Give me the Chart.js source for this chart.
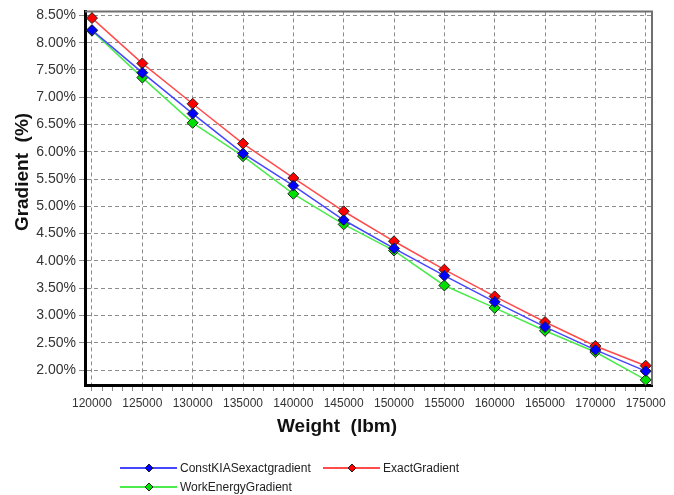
<!DOCTYPE html>
<html>
<head>
<meta charset="utf-8">
<title>Gradient vs Weight</title>
<script src="https://cdn.jsdelivr.net/npm/chart.js@4.4.0/dist/chart.umd.min.js"></script>
<style>
  html, body { margin: 0; padding: 0; background: #fff; }
</style>
</head>
<body>
<canvas id="Chart" width="674" height="495"></canvas>
<script>
// weight in lbm, gradients in percent
const weights = [120000, 125000, 130000, 135000, 140000, 145000, 150000, 155000, 160000, 165000, 170000, 175000];
const constKIASGradient = [8.23, 7.45, 6.70, 5.97, 5.38, 4.75, 4.23, 3.73, 3.25, 2.79, 2.37, 1.98];
const exactGradient = [8.45, 7.62, 6.88, 6.15, 5.52, 4.91, 4.36, 3.84, 3.35, 2.88, 2.44, 2.08];
const workEnergyGradient = [8.22, 7.36, 6.53, 5.92, 5.23, 4.67, 4.19, 3.55, 3.14, 2.72, 2.33, 1.82];

const yTicks = [2.0, 2.5, 3.0, 3.5, 4.0, 4.5, 5.0, 5.5, 6.0, 6.5, 7.0, 7.5, 8.0, 8.5];
const xMajorStep = 5000;
const xMinorStep = 1000;

function series(label, values, lineColor, markColor) {
  return {
    label: label,
    data: weights.map((w, i) => ({ x: w, y: values[i] })),
    borderColor: lineColor,
    borderWidth: 1.5,
    backgroundColor: markColor,
    pointStyle: "rectRot",
    pointRadius: 5.5,
    pointHoverRadius: 5.5,
    pointBorderColor: "#222",
    pointBorderWidth: 1,
    pointBackgroundColor: markColor,
    tension: 0,
    fill: false,
    clip: false,
  };
}

// frame, axis titles and the two-column legend
const decor = {
  id: "decor",
  beforeDatasetsDraw(chart) {
    const { ctx, chartArea: a } = chart;
    ctx.save();
    ctx.strokeStyle = "#707070";
    ctx.lineWidth = 2;
    ctx.beginPath();
    ctx.moveTo(a.left, a.top);
    ctx.lineTo(a.right, a.top);
    ctx.lineTo(a.right, a.bottom);
    ctx.stroke();
    ctx.restore();
  },
  afterDraw(chart, args, opts) {
    const ctx = chart.ctx;
    ctx.save();
    ctx.fillStyle = "#111";
    ctx.font = "bold 19px Arial, 'Liberation Sans', sans-serif";
    ctx.textAlign = "center";
    ctx.textBaseline = "middle";
    ctx.fillText(opts.xTitle, 337, 427);
    ctx.save();
    ctx.translate(23, 172);
    ctx.rotate(-Math.PI / 2);
    ctx.fillText(opts.yTitle, 0, 0);
    ctx.restore();

    ctx.font = "12px Arial, 'Liberation Sans', sans-serif";
    ctx.textAlign = "left";
    opts.items.forEach((it) => {
      const ds = chart.data.datasets[it.ds];
      ctx.strokeStyle = ds.borderColor;
      ctx.lineWidth = 2;
      ctx.beginPath();
      ctx.moveTo(it.x, it.y);
      ctx.lineTo(it.x + 57, it.y);
      ctx.stroke();
      // small diamond marker on the sample line
      ctx.fillStyle = ds.pointBackgroundColor;
      ctx.strokeStyle = "#222";
      ctx.lineWidth = 1;
      ctx.beginPath();
      ctx.moveTo(it.x + 25, it.y);
      ctx.lineTo(it.x + 29, it.y - 4);
      ctx.lineTo(it.x + 33, it.y);
      ctx.lineTo(it.x + 29, it.y + 4);
      ctx.closePath();
      ctx.fill();
      ctx.stroke();
      ctx.fillStyle = "#222";
      ctx.fillText(ds.label, it.x + 60, it.y + 1);
    });
    ctx.restore();
  },
};

const c = document.getElementById("Chart");
new Chart(c, {
  type: "line",
  data: {
    datasets: [
      series("ConstKIASexactgradient", constKIASGradient, "rgb(70,70,255)", "#0000ff"),
      series("ExactGradient", exactGradient, "rgb(255,75,75)", "#ff0000"),
      series("WorkEnergyGradient", workEnergyGradient, "rgb(75,235,75)", "#00e000"),
    ],
  },
  options: {
    responsive: false,
    animation: false,
    layout: { padding: { left: 0, top: 10, right: 22, bottom: 0 } },
    plugins: {
      legend: { display: false },
      tooltip: { enabled: false },
      decor: {
        xTitle: "Weight  (lbm)",
        yTitle: "Gradient  (%)",
        items: [
          { ds: 0, x: 120, y: 468 },
          { ds: 1, x: 323, y: 468 },
          { ds: 2, x: 120, y: 487 },
        ],
      },
    },
    scales: {
      x: {
        type: "linear",
        min: 119305,
        max: 175626,
        afterFit: (s) => { s.height = 110; },
        afterBuildTicks: (s) => {
          const t = [];
          for (let v = weights[0]; v <= weights[weights.length - 1]; v += xMinorStep) t.push({ value: v });
          s.ticks = t;
        },
        grid: {
          color: (ctx) => (ctx.tick && ctx.tick.value % xMajorStep === 0 ? "#8c8c8c" : "rgba(0,0,0,0)"),
          lineWidth: 1,
          tickLength: 6,
          tickColor: "#8c8c8c",
        },
        border: { display: true, color: "#000", width: 3, dash: [4, 3] },
        ticks: {
          autoSkip: false,
          maxRotation: 0,
          padding: 5,
          color: "#333",
          font: { family: "Arial, 'Liberation Sans', sans-serif", size: 12 },
          callback: (v) => (v % xMajorStep === 0 ? String(v) : ""),
        },
      },
      y: {
        type: "linear",
        min: 1.726,
        max: 8.573,
        afterFit: (s) => { s.width = 85; },
        afterBuildTicks: (s) => { s.ticks = yTicks.map((v) => ({ value: v })); },
        grid: { color: "#8c8c8c", lineWidth: 1, tickLength: 6, tickColor: "#8c8c8c" },
        border: { display: true, color: "#000", width: 3, dash: [4, 3] },
        ticks: {
          padding: 3,
          color: "#333",
          font: { family: "Arial, 'Liberation Sans', sans-serif", size: 14 },
          callback: (v) => v.toFixed(2) + "%",
        },
      },
    },
  },
  plugins: [decor],
});
</script>
</body>
</html>
